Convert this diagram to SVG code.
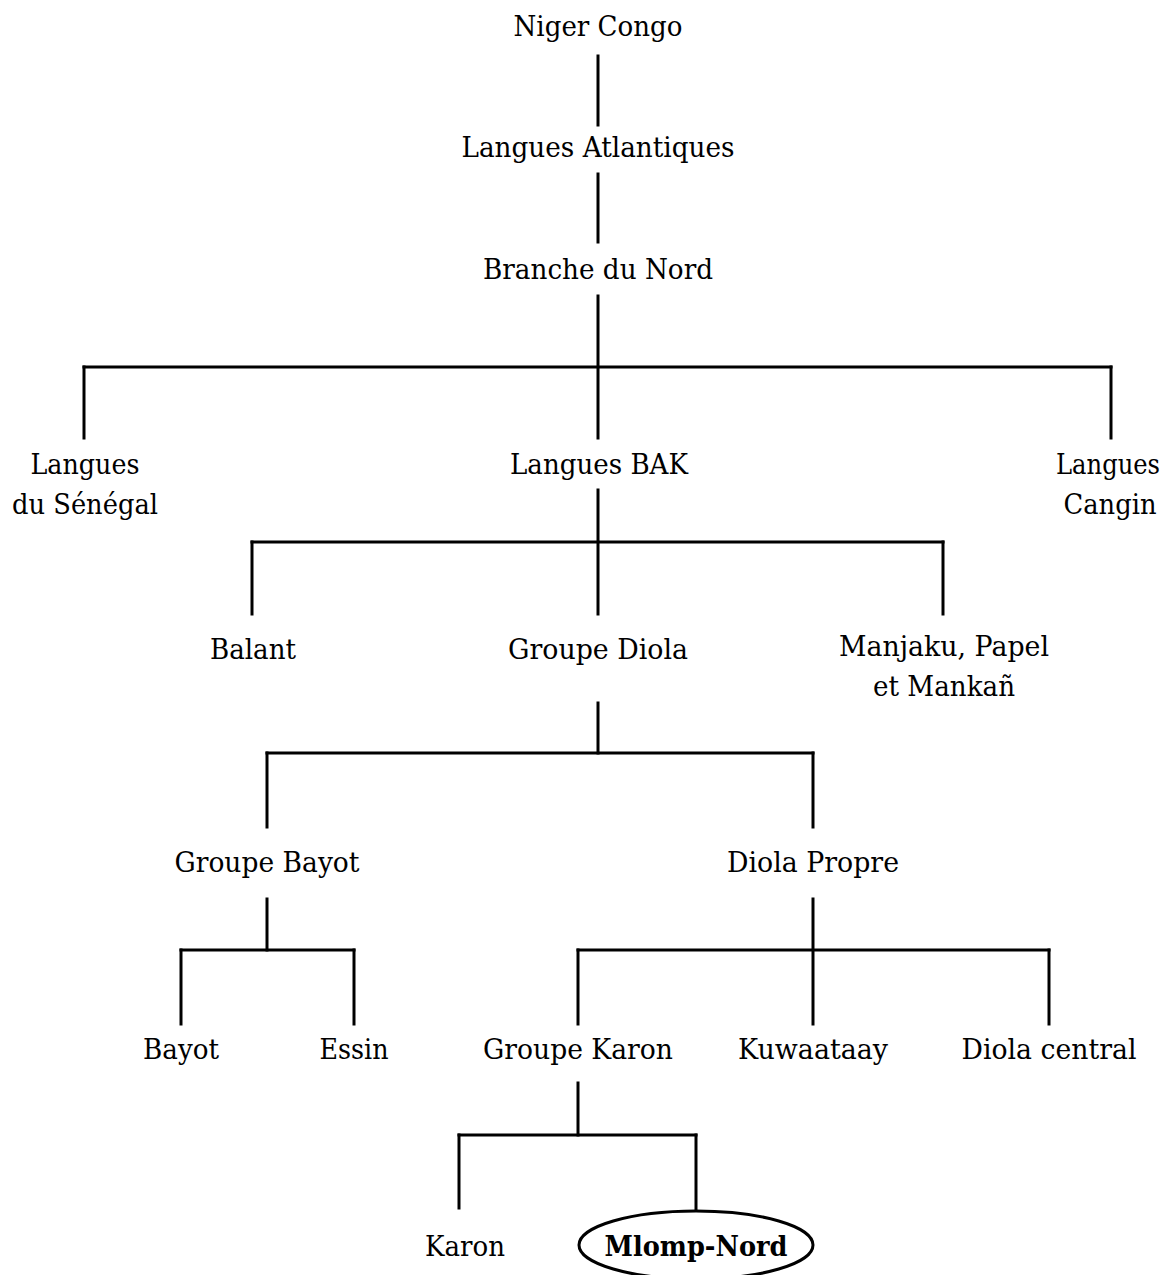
<svg xmlns="http://www.w3.org/2000/svg" width="1175" height="1275" viewBox="0 0 1175 1275">
<style>
text{font-family:"DejaVu Serif","Liberation Serif",serif;font-size:28px;fill:#000;text-anchor:middle}
.b{font-weight:bold}
.c line{stroke:#000;stroke-width:3;stroke-linecap:square}
</style>
<rect width="1175" height="1275" fill="#fff"/>
<g class="c" id="connectors">
<line x1="598" y1="56" x2="598" y2="125"/>
<line x1="598" y1="174" x2="598" y2="242"/>
<line x1="598" y1="296" x2="598" y2="438"/>
<line x1="84" y1="367" x2="1111" y2="367"/>
<line x1="84" y1="367" x2="84" y2="438"/>
<line x1="1111" y1="367" x2="1111" y2="438"/>
<line x1="598" y1="490" x2="598" y2="614"/>
<line x1="252" y1="542" x2="943" y2="542"/>
<line x1="252" y1="542" x2="252" y2="614"/>
<line x1="943" y1="542" x2="943" y2="614"/>
<line x1="598" y1="703" x2="598" y2="753"/>
<line x1="267" y1="753" x2="813" y2="753"/>
<line x1="267" y1="753" x2="267" y2="827"/>
<line x1="813" y1="753" x2="813" y2="827"/>
<line x1="267" y1="899" x2="267" y2="950"/>
<line x1="181" y1="950" x2="354" y2="950"/>
<line x1="181" y1="950" x2="181" y2="1024"/>
<line x1="354" y1="950" x2="354" y2="1024"/>
<line x1="813" y1="899" x2="813" y2="1024"/>
<line x1="578" y1="950" x2="1049" y2="950"/>
<line x1="578" y1="950" x2="578" y2="1024"/>
<line x1="1049" y1="950" x2="1049" y2="1024"/>
<line x1="578" y1="1083" x2="578" y2="1135"/>
<line x1="459" y1="1135" x2="696" y2="1135"/>
<line x1="459" y1="1135" x2="459" y2="1208"/>
<line x1="696" y1="1135" x2="696" y2="1209"/>
</g>
<g id="niger-congo"><text x="598" y="36" textLength="169" lengthAdjust="spacingAndGlyphs">Niger Congo</text></g>
<g id="langues-atlantiques"><text x="598" y="157" textLength="273" lengthAdjust="spacingAndGlyphs">Langues Atlantiques</text></g>
<g id="branche-du-nord"><text x="598" y="279" textLength="230" lengthAdjust="spacingAndGlyphs">Branche du Nord</text></g>
<g id="langues-senegal"><text x="85" y="474" textLength="109" lengthAdjust="spacingAndGlyphs">Langues</text><text x="85" y="514" textLength="146" lengthAdjust="spacingAndGlyphs">du Sénégal</text></g>
<g id="langues-bak"><text x="599" y="474" textLength="178" lengthAdjust="spacingAndGlyphs">Langues BAK</text></g>
<g id="langues-cangin"><text x="1108" y="474" font-size="26" textLength="104" lengthAdjust="spacingAndGlyphs">Langues</text><text x="1110" y="514" textLength="93" lengthAdjust="spacingAndGlyphs">Cangin</text></g>
<g id="balant"><text x="253" y="659" textLength="86" lengthAdjust="spacingAndGlyphs">Balant</text></g>
<g id="groupe-diola"><text x="598" y="659" textLength="180" lengthAdjust="spacingAndGlyphs">Groupe Diola</text></g>
<g id="manjaku"><text x="944" y="656" textLength="210" lengthAdjust="spacingAndGlyphs">Manjaku, Papel</text><text x="944" y="696" textLength="142" lengthAdjust="spacingAndGlyphs">et Mankañ</text></g>
<g id="groupe-bayot"><text x="267" y="872" textLength="185" lengthAdjust="spacingAndGlyphs">Groupe Bayot</text></g>
<g id="diola-propre"><text x="813" y="872" textLength="172" lengthAdjust="spacingAndGlyphs">Diola Propre</text></g>
<g id="bayot"><text x="181" y="1059" textLength="76" lengthAdjust="spacingAndGlyphs">Bayot</text></g>
<g id="essin"><text x="354" y="1059" textLength="69" lengthAdjust="spacingAndGlyphs">Essin</text></g>
<g id="groupe-karon"><text x="578" y="1059" textLength="190" lengthAdjust="spacingAndGlyphs">Groupe Karon</text></g>
<g id="kuwaataay"><text x="813" y="1059" textLength="150" lengthAdjust="spacingAndGlyphs">Kuwaataay</text></g>
<g id="diola-central"><text x="1049" y="1059" textLength="175" lengthAdjust="spacingAndGlyphs">Diola central</text></g>
<g id="karon"><text x="465" y="1256" textLength="80" lengthAdjust="spacingAndGlyphs">Karon</text></g>
<g id="mlomp-nord"><ellipse cx="696" cy="1245" rx="117" ry="34" fill="none" stroke="#000" stroke-width="3"/><text class="b" x="696" y="1256" textLength="183" lengthAdjust="spacingAndGlyphs">Mlomp-Nord</text></g>
</svg>
